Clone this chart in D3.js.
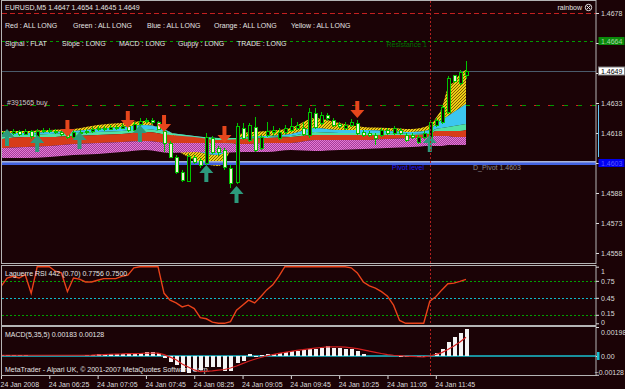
<!DOCTYPE html>
<html>
<head>
<meta charset="utf-8">
<script src="https://cdn.jsdelivr.net/npm/d3@7"></script>
<style>
  html, body { margin: 0; padding: 0; background: #1b0306; }
  svg { display: block; }
</style>
</head>
<body>
<svg id="chart" width="625" height="389"></svg>
<script>
// ---------- data (EURUSD M5, 24 Jan 2008, 05:45 .. 12:10) ----------
const barOpen = [1.46175,1.46185,1.4618,1.4619,1.46175,1.4619,1.46165,1.4619,1.46195,1.4619,
  1.46185,1.46175,1.4616,1.46185,1.46185,1.4619,1.462,1.46205,1.462,1.4621,
  1.46205,1.46215,1.46195,1.46225,1.4624,1.46245,1.46235,1.4619,1.4613,1.4606,
  1.45985,1.4594,1.4606,1.46045,1.4603,1.46155,1.46105,1.46095,1.46005,1.45935,
  1.46205,1.46145,1.4621,1.46105,1.4617,1.46185,1.46155,1.46185,1.46195,1.46205,
  1.46205,1.4617,1.4628,1.4623,1.4627,1.46245,1.46225,1.46205,1.4622,1.4623,
  1.46185,1.4618,1.4617,1.4617,1.46195,1.4618,1.46195,1.4617,1.4617,1.46135,
  1.4616,1.46145,1.4622,1.46235,1.46285,1.4647,1.4643,1.4647];
const barHigh = [1.46195,1.46195,1.462,1.46195,1.462,1.46195,1.462,1.46205,1.46205,1.462,
  1.4619,1.4618,1.46195,1.46195,1.462,1.4621,1.46215,1.46215,1.4622,1.4622,
  1.46225,1.46225,1.46235,1.46255,1.46255,1.46255,1.4624,1.46205,1.4614,1.4607,
  1.45995,1.46075,1.4607,1.46055,1.4618,1.46165,1.46115,1.46105,1.4602,1.4623,
  1.4623,1.4623,1.4626,1.4617,1.46235,1.46215,1.46205,1.4622,1.46255,1.46235,
  1.46235,1.46305,1.46305,1.46285,1.4628,1.46255,1.46235,1.46235,1.4625,1.46245,
  1.46195,1.4619,1.4618,1.46205,1.46205,1.46215,1.46205,1.4618,1.4618,1.4617,
  1.4619,1.46245,1.46255,1.4632,1.46465,1.4647,1.46495,1.4654];
const barLow = [1.4616,1.46165,1.4617,1.46165,1.4617,1.4615,1.4616,1.4618,1.4618,1.46175,
  1.46165,1.4615,1.46155,1.46175,1.46175,1.4618,1.4619,1.4619,1.46195,1.46195,
  1.462,1.46185,1.4619,1.46215,1.4623,1.46225,1.46195,1.46085,1.46055,1.45975,
  1.45935,1.45935,1.46025,1.46005,1.4602,1.46075,1.46065,1.45995,1.45905,1.45925,
  1.46145,1.46135,1.46085,1.46095,1.4616,1.46165,1.46145,1.46175,1.46185,1.46195,
  1.46165,1.46155,1.462,1.4622,1.4624,1.4621,1.46205,1.46195,1.4621,1.4617,
  1.4616,1.4616,1.4612,1.4616,1.4617,1.4617,1.4617,1.46135,1.4615,1.46125,
  1.4615,1.46105,1.4621,1.46225,1.46275,1.4643,1.4642,1.4645];
const barClose = [1.46185,1.4618,1.4619,1.46175,1.4619,1.46165,1.4619,1.46195,1.4619,1.46185,
  1.46175,1.4616,1.46185,1.46185,1.4619,1.462,1.46205,1.462,1.4621,1.46205,
  1.46215,1.46195,1.46225,1.4624,1.46245,1.46235,1.462,1.4613,1.4606,1.45985,
  1.45945,1.46065,1.46035,1.4602,1.4616,1.46085,1.46085,1.4601,1.4593,1.46215,
  1.46155,1.4622,1.46095,1.4616,1.4619,1.46195,1.46185,1.46205,1.46215,1.4622,
  1.46175,1.46285,1.4621,1.4627,1.46255,1.4622,1.46215,1.4622,1.46235,1.4618,
  1.4617,1.4617,1.46155,1.46195,1.4618,1.46205,1.4618,1.46145,1.4616,1.4616,
  1.4618,1.46235,1.46245,1.4631,1.46455,1.4644,1.46485,1.4649];

// rainbow band edges, sampled at these bar indices (fastest MA first)
const bandBars = [0,4,8,12,16,20,24,28,32,36,40,44,48,52,56,60,64,68,71,72,73,74,75,76,77];
const band0 = [1.4619,1.4619,1.46195,1.462,1.4622,1.4623,1.4624,1.4612,1.46045,1.46015,1.4618,1.4619,1.46205,1.46255,1.4623,1.4621,1.46205,1.462,1.4622,1.46255,1.46305,1.46405,1.46435,1.46475,1.46495];
const band1 = [1.4618,1.4618,1.46185,1.4619,1.462,1.4621,1.4622,1.46185,1.46095,1.4607,1.4616,1.46165,1.46175,1.46205,1.46195,1.46195,1.4619,1.46185,1.46195,1.46225,1.46245,1.46265,1.46285,1.46305,1.46325];
const band2 = [1.4617,1.4617,1.46175,1.4618,1.46185,1.4619,1.462,1.4618,1.46165,1.46155,1.46155,1.4616,1.46165,1.46185,1.4618,1.4618,1.4618,1.46175,1.4618,1.462,1.46205,1.4621,1.46215,1.4622,1.46225];
const band3 = [1.4615,1.4616,1.4616,1.46165,1.4617,1.46175,1.46185,1.4617,1.4616,1.46145,1.4615,1.46155,1.4616,1.4617,1.4617,1.4617,1.4617,1.4617,1.46175,1.4619,1.4619,1.4619,1.4619,1.4619,1.46195];
const band4 = [1.46105,1.4611,1.46115,1.46125,1.4613,1.46135,1.4614,1.4613,1.4613,1.4613,1.46125,1.4613,1.4613,1.46145,1.46145,1.46145,1.4615,1.46155,1.4616,1.46165,1.46165,1.46165,1.4616,1.4616,1.4616];
const band5 = [1.46055,1.46055,1.4606,1.4607,1.46075,1.46085,1.46095,1.4608,1.46085,1.4608,1.46085,1.46085,1.46095,1.4609,1.46095,1.461,1.46105,1.4611,1.46115,1.46115,1.46115,1.4612,1.4612,1.4612,1.4612];

// signal arrows
const sellBars = [11, 21, 27, 37, 59];
const sellPrices = [1.4616, 1.46205, 1.46185, 1.4613, 1.46255];
const buyBars = [1, 6, 13, 23, 34, 39, 71];
const buyPrices = [1.462, 1.4617, 1.46185, 1.4622, 1.4602, 1.45915, 1.4617];

// levels
const r2Level = 1.4678, r1Level = 1.4664, bidLevel = 1.4649, orderLevel = 1.4632, pivotLevel = 1.4603;
const separatorBar = 71;

// Laguerre RSI
const rsiValues = [0.65,0.80,0.83,0.80,0.86,0.53,1,1,1,0.92,
  0.89,0.56,0.80,0.78,0.73,0.73,0.76,0.79,0.79,0.79,
  0.83,0.85,0.98,1,1,1,1,0.53,0.41,0.36,
  0.29,0.32,0.26,0.10,0.08,0.02,0,0,0.03,0.23,
  0.32,0.41,0.36,0.47,0.59,0.68,0.83,1,1,1,
  1,1,1,1,1,1,1,1,0.98,0.89,
  0.73,0.66,0.62,0.56,0.48,0.32,0.05,0,0,0,
  0,0.39,0.47,0.59,0.70,0.71,0.74,0.7756];
const rsiLevels = [0.75, 0.45, 0.15];
const rsiTicks = [1, 0.75, 0.45, 0.15, 0];

// MACD(5,35,5)
const macdHist = [0.00007,0.00007,0.00007,0.0001,0.00007,0.00003,0.00003,0.00003,0.00003,0.00003,
  0.00003,0.00003,0.00003,0.00003,0.00007,0.0001,0.00014,0.00017,0.00017,0.00017,
  0.00017,0.0002,0.00017,0.0002,0.00024,0.00024,0.0002,-0.00014,-0.00041,-0.00061,
  -0.00109,-0.00116,-0.00102,-0.00096,-0.00075,-0.00075,-0.00075,-0.00102,-0.00102,-0.00048,
  -0.00034,0.00014,-0.00007,0.00007,0.00014,0.00017,0.0002,0.00027,0.00034,0.00034,
  0.00041,0.00048,0.00051,0.00058,0.00065,0.00058,0.00055,0.00051,0.00048,0.00031,
  0.00014,0.00003,0.00002,0.00001,0.00001,0.00001,0,-0.00003,-0.0001,-0.0001,
  -0.0001,0.00003,0.00023,0.00046,0.00098,0.00132,0.00159,0.00183];
const macdSignal = [0.00005,0.00005,0.00005,0.00005,0.00005,0.00005,0.00005,0.00005,0.00005,0.00005,
  0.00005,0.00005,0.00005,0.00005,0.00005,0.00006,0.00008,0.0001,0.00012,0.00013,
  0.00014,0.00016,0.00016,0.00017,0.00019,0.0002,0.0002,0.00009,-0.00008,-0.00026,
  -0.00054,-0.00075,-0.00095,-0.00107,-0.00104,-0.00102,-0.00097,-0.00092,-0.00082,-0.00068,
  -0.00052,-0.00036,-0.00022,-0.0001,0.00001,0.0001,0.00018,0.00025,0.00032,0.00038,
  0.00043,0.00049,0.00054,0.00058,0.00062,0.00063,0.00062,0.0006,0.00056,0.0005,
  0.00042,0.00033,0.00025,0.00017,0.0001,0.00005,0.00002,-0.00001,-0.00003,-0.00005,
  -0.00006,0,0.00011,0.00023,0.00045,0.00069,0.00095,0.00128];
const macdTicks = [0.00198, 0, -0.00128];

// axes
const priceTicks = [1.4678, 1.4663, 1.4648, 1.4633, 1.4618, 1.4603, 1.4588, 1.4573, 1.4558];
const hiddenPriceLabels = [1.4663, 1.4648, 1.4603]; // covered by the marker boxes
const timeBars = [0, 8, 16, 24, 32, 40, 48, 56, 64, 72];
const timeLabels = ["24 Jan 2008","24 Jan 06:25","24 Jan 07:05","24 Jan 07:45","24 Jan 08:25",
  "24 Jan 09:05","24 Jan 09:45","24 Jan 10:25","24 Jan 11:05","24 Jan 11:45"];

const headerText = "EURUSD,M5  1.4647 1.4654 1.4645 1.4649";
const statusRow1 = ["Red : ALL LONG", "Green : ALL LONG", "Blue : ALL LONG", "Orange : ALL LONG", "Yellow : ALL LONG"];
const statusRow2 = ["Signal : FLAT", "Slope : LONG", "MACD : LONG", "Guppy : LONG", "TRADE : LONG"];

// ---------- layout ----------
const BG = "#1b0306", FONT = "'Liberation Sans', Arial, sans-serif";
const left = 2, right = 596;
const mainP = {top: 1, bot: 264}, rsiP = {top: 265.5, bot: 325}, macdP = {top: 327, bot: 376};

const svg = d3.select("#chart").attr("font-family", FONT).attr("font-size", 7).attr("fill", "#e4e4e4");
svg.append("rect").attr("width", 625).attr("height", 389).attr("fill", BG);

const x = d3.scaleLinear().domain([0, 77]).range([1, 466]);
const yP = d3.scaleLinear().domain([1.4558, 1.4678]).range([253, 13]);
const yR = d3.scaleLinear().domain([0, 1]).range([323.3, 266.7]);
const yM = d3.scaleLinear().domain([-0.00128, 0.00198]).range([374.75, 327]);

const defs = svg.append("defs");
[["clipMain", mainP], ["clipRsi", rsiP], ["clipMacd", macdP]].forEach(([id, p]) => {
  defs.append("clipPath").attr("id", id).append("rect")
    .attr("x", left).attr("y", p.top).attr("width", right - left).attr("height", p.bot - p.top);
});
const yel = defs.append("pattern").attr("id", "yel").attr("width", 3).attr("height", 3).attr("patternUnits", "userSpaceOnUse");
yel.append("rect").attr("width", 3).attr("height", 3).attr("fill", "#ecd212");
yel.append("path").attr("d", "M0,3 L3,0").attr("stroke", "#7a4a08").attr("stroke-width", 0.9);
const mag = defs.append("pattern").attr("id", "mag").attr("width", 2).attr("height", 2).attr("patternUnits", "userSpaceOnUse");
mag.append("rect").attr("width", 2).attr("height", 2).attr("fill", "#a63c98");
mag.append("rect").attr("width", 1).attr("height", 1).attr("fill", "#e27ad4");
mag.append("rect").attr("x", 1).attr("y", 1).attr("width", 1).attr("height", 1).attr("fill", "#e27ad4");

// ---------- main panel ----------
const mainG = svg.append("g").attr("clip-path", "url(#clipMain)");

function hLine(g, price, color, dash, width) {
  g.append("line").attr("x1", left).attr("x2", right)
    .attr("y1", Math.round(yP(price)) + 0.5).attr("y2", Math.round(yP(price)) + 0.5)
    .attr("stroke", color).attr("stroke-width", width || 1).attr("stroke-dasharray", dash || null);
}
hLine(mainG, r2Level, "#c42020", "5,3");
hLine(mainG, r1Level, "#009a00", "3,3");
hLine(mainG, bidLevel, "#4a5a6a");
hLine(mainG, orderLevel, "#009a00", "6,8");
hLine(mainG, orderLevel, "#d02020", "2,12");

// rainbow bands
const bandRows = bandBars.map((b, k) => ({b, v: [band0[k], band1[k], band2[k], band3[k], band4[k], band5[k]]}));
const bandFills = ["url(#yel)", "#3cc6f0", "#4fe2a6", "#d63c18", "url(#mag)"];
bandFills.forEach((fill, j) => {
  const area = d3.area().x(d => x(d.b)).y0(d => yP(d.v[j])).y1(d => yP(d.v[j + 1])).curve(d3.curveMonotoneX);
  mainG.append("path").datum(bandRows).attr("d", area).attr("fill", fill);
});

// pivot line
const py = Math.round(yP(pivotLevel));
mainG.append("rect").attr("x", left).attr("width", right - left).attr("y", py - 2).attr("height", 4).attr("fill", "#4262e0");
mainG.append("rect").attr("x", left).attr("width", right - left).attr("y", py - 2).attr("height", 1.5).attr("fill", "#a8b4d8");

// candles
const candles = d3.range(barOpen.length).map(i => ({i, o: barOpen[i], h: barHigh[i], l: barLow[i], c: barClose[i]}));
const cg = mainG.append("g").attr("shape-rendering", "crispEdges");
const cx = d => Math.round(x(d.i)) + 0.5;
cg.selectAll("line").data(candles).join("line")
  .attr("x1", cx).attr("x2", cx).attr("y1", d => yP(d.h)).attr("y2", d => yP(d.l))
  .attr("stroke", "#00c400");
cg.selectAll("rect").data(candles).join("rect")
  .attr("x", d => cx(d) - 1.5).attr("width", 3)
  .attr("y", d => Math.round(yP(Math.max(d.o, d.c))) + 0.5)
  .attr("height", d => Math.max(1, Math.round(Math.abs(yP(d.o) - yP(d.c)))))
  .attr("fill", d => d.c >= d.o ? BG : "#f4f2d6")
  .attr("stroke", "#00c400");

// arrows
const ag = mainG.append("g");
ag.selectAll(".sell").data(sellBars).join("path").attr("class", "sell")
  .attr("transform", (b, k) => `translate(${x(b)},${yP(sellPrices[k])})`)
  .attr("d", "M-2,-17H2V-8H7L0,0L-7,-8H-2Z").attr("fill", "#e6461c");
ag.selectAll(".buy").data(buyBars).join("path").attr("class", "buy")
  .attr("transform", (b, k) => `translate(${x(b)},${yP(buyPrices[k])})`)
  .attr("d", "M-2,17H2V8H7L0,0L-7,8H-2Z").attr("fill", "#2c9a7c");

// main texts
svg.append("text").attr("x", 5).attr("y", 10).text(headerText);
const row1X = [5, 73, 147, 214, 291], row2X = [5, 62, 119, 178, 237];
svg.selectAll(".s1").data(statusRow1).join("text").attr("class", "s1")
  .attr("x", (d, i) => row1X[i]).attr("y", 27.5).text(d => d);
svg.selectAll(".s2").data(statusRow2).join("text").attr("class", "s2")
  .attr("x", (d, i) => row2X[i]).attr("y", 45.5).text(d => d);
svg.append("text").attr("x", 427).attr("y", 47).attr("text-anchor", "end").attr("fill", "#006a00").text("Resistance 1");
svg.append("text").attr("x", 7).attr("y", 104.5).attr("fill", "#c8c8c8").text("#391565 buy");
svg.append("text").attr("x", 424).attr("y", 170).attr("text-anchor", "end").attr("fill", "#1a1aff").text("Pivot level");
svg.append("text").attr("x", 473).attr("y", 170).attr("fill", "#8a8a8a").text("D_Pivot 1.4603");
svg.append("text").attr("x", 582).attr("y", 10).attr("text-anchor", "end").text("rainbow");
const ic = svg.append("g").attr("transform", "translate(588.5,7.5)").attr("stroke", "#e4e4e4").attr("fill", "none");
ic.append("circle").attr("r", 3.2);
ic.append("path").attr("d", "M-1.7,-1.7L1.7,1.7M1.7,-1.7L-1.7,1.7");

// ---------- RSI panel ----------
const rsiG = svg.append("g").attr("clip-path", "url(#clipRsi)");
rsiG.selectAll("line").data(rsiLevels).join("line")
  .attr("x1", left).attr("x2", right)
  .attr("y1", d => Math.round(yR(d)) + 0.5).attr("y2", d => Math.round(yR(d)) + 0.5)
  .attr("stroke", d => d === 0.45 ? "#10b8c8" : "#00a000").attr("stroke-dasharray", "2,2");
rsiG.append("path").datum(rsiValues)
  .attr("d", d3.line().x((d, i) => x(i)).y(d => yR(d)))
  .attr("fill", "none").attr("stroke", "#e8421a").attr("stroke-width", 1.4);
svg.append("text").attr("x", 5).attr("y", 276).text("Laguerre RSI 442 (0.70) 0.7756 0.7500");

// ---------- MACD panel ----------
const macdG = svg.append("g").attr("clip-path", "url(#clipMacd)");
svg.append("text").attr("x", 5).attr("y", 337).text("MACD(5,35,5) 0.00183 0.00128");
macdG.append("text").attr("x", 5).attr("y", 372).attr("fill", "#e4e4e4")
  .text("MetaTrader - Alpari UK, \u00a9 2001-2007 MetaQuotes Software Corp.");
macdG.append("line").attr("x1", left).attr("x2", right).attr("y1", yM(0)).attr("y2", yM(0))
  .attr("stroke", "#18c0d0").attr("stroke-width", 1.6);
macdG.append("g").attr("shape-rendering", "crispEdges").selectAll("rect").data(macdHist).join("rect")
  .attr("x", (d, i) => Math.round(x(i)) - 1.5).attr("width", 4)
  .attr("y", d => yM(Math.max(0, d))).attr("height", d => Math.max(0.5, Math.abs(yM(d) - yM(0))))
  .attr("fill", "#f4f4f4");
macdG.append("path").datum(macdSignal)
  .attr("d", d3.line().x((d, i) => x(i)).y(d => yM(d)))
  .attr("fill", "none").attr("stroke", "#d42020").attr("stroke-width", 1.2);

// ---------- separator, borders, axes ----------
svg.append("line").attr("x1", Math.round(x(separatorBar)) + 0.5).attr("x2", Math.round(x(separatorBar)) + 0.5)
  .attr("y1", mainP.top).attr("y2", macdP.bot).attr("stroke", "#b02020").attr("stroke-dasharray", "2,2");

[mainP, rsiP, macdP].forEach(p => {
  svg.append("rect").attr("x", left - 0.5).attr("y", Math.round(p.top) - 0.5)
    .attr("width", right - left + 0.5).attr("height", Math.round(p.bot - p.top))
    .attr("fill", "none").attr("stroke", "#b4b4b4");
});

function styleAxis(g) {
  g.attr("font-family", FONT).attr("font-size", 7).attr("color", "#dcdcdc");
  g.select(".domain").remove();
}
svg.append("g").attr("transform", `translate(${right},0)`)
  .call(d3.axisRight(yP).tickValues(priceTicks).tickSize(3).tickPadding(2)
    .tickFormat(d => hiddenPriceLabels.includes(d) ? "" : d3.format(".4f")(d)))
  .call(styleAxis);
svg.append("g").attr("transform", `translate(${right},0)`)
  .call(d3.axisRight(yR).tickValues(rsiTicks).tickSize(3).tickPadding(2).tickFormat(d => d === 1 || d === 0 ? String(d) : d3.format(".2f")(d)))
  .call(styleAxis)
  .selectAll("text").attr("dy", d => d === 1 ? "0.95em" : d === 0 ? "0.12em" : d === 0.15 ? "0.1em" : "0.32em");
const macdAxis = svg.append("g").attr("transform", `translate(${right},0)`)
  .call(d3.axisRight(yM).tickValues(macdTicks).tickSize(3).tickPadding(2).tickFormat(d => d === 0 ? "0.00" : d3.format(".5f")(d)))
  .call(styleAxis);
macdAxis.selectAll("text").attr("dy", d => d > 0 ? "1em" : d < 0 ? "-0.1em" : "0.32em")
  .filter(d => d < 0).attr("text-anchor", "end").attr("x", 624 - right);
svg.append("g").attr("transform", `translate(0,${macdP.bot})`)
  .call(d3.axisBottom(x).tickValues(timeBars).tickSize(3).tickPadding(3).tickFormat((d, i) => timeLabels[i]))
  .call(styleAxis)
  .selectAll("text").attr("text-anchor", "start").attr("dx", "-1");

// price marker boxes on the axis
function priceBox(price, bg, fg, border) {
  const yy = yP(price);
  svg.append("rect").attr("x", 598.5).attr("y", yy - 4).attr("width", 26).attr("height", 8)
    .attr("fill", bg).attr("stroke", border || "none");
  svg.append("text").attr("x", 601).attr("y", yy + 2.5).attr("fill", fg).text(d3.format(".4f")(price));
}
svg.append("line").attr("x1", 598.5).attr("x2", 598.5).attr("y1", yP(1.4632)).attr("y2", yP(1.4606))
  .attr("stroke", "#60c8f8");
priceBox(r1Level, "#0a8a0a", "#a8d8a8");
priceBox(bidLevel, "#ffffff", "#000000", "#808080");
priceBox(pivotLevel, "#0000f0", "#5a5aff");
svg.append("rect").attr("x", 597).attr("y", yM(0) - 4).attr("width", 2.5).attr("height", 8).attr("fill", "#18c0d0");
</script>
</body>
</html>
